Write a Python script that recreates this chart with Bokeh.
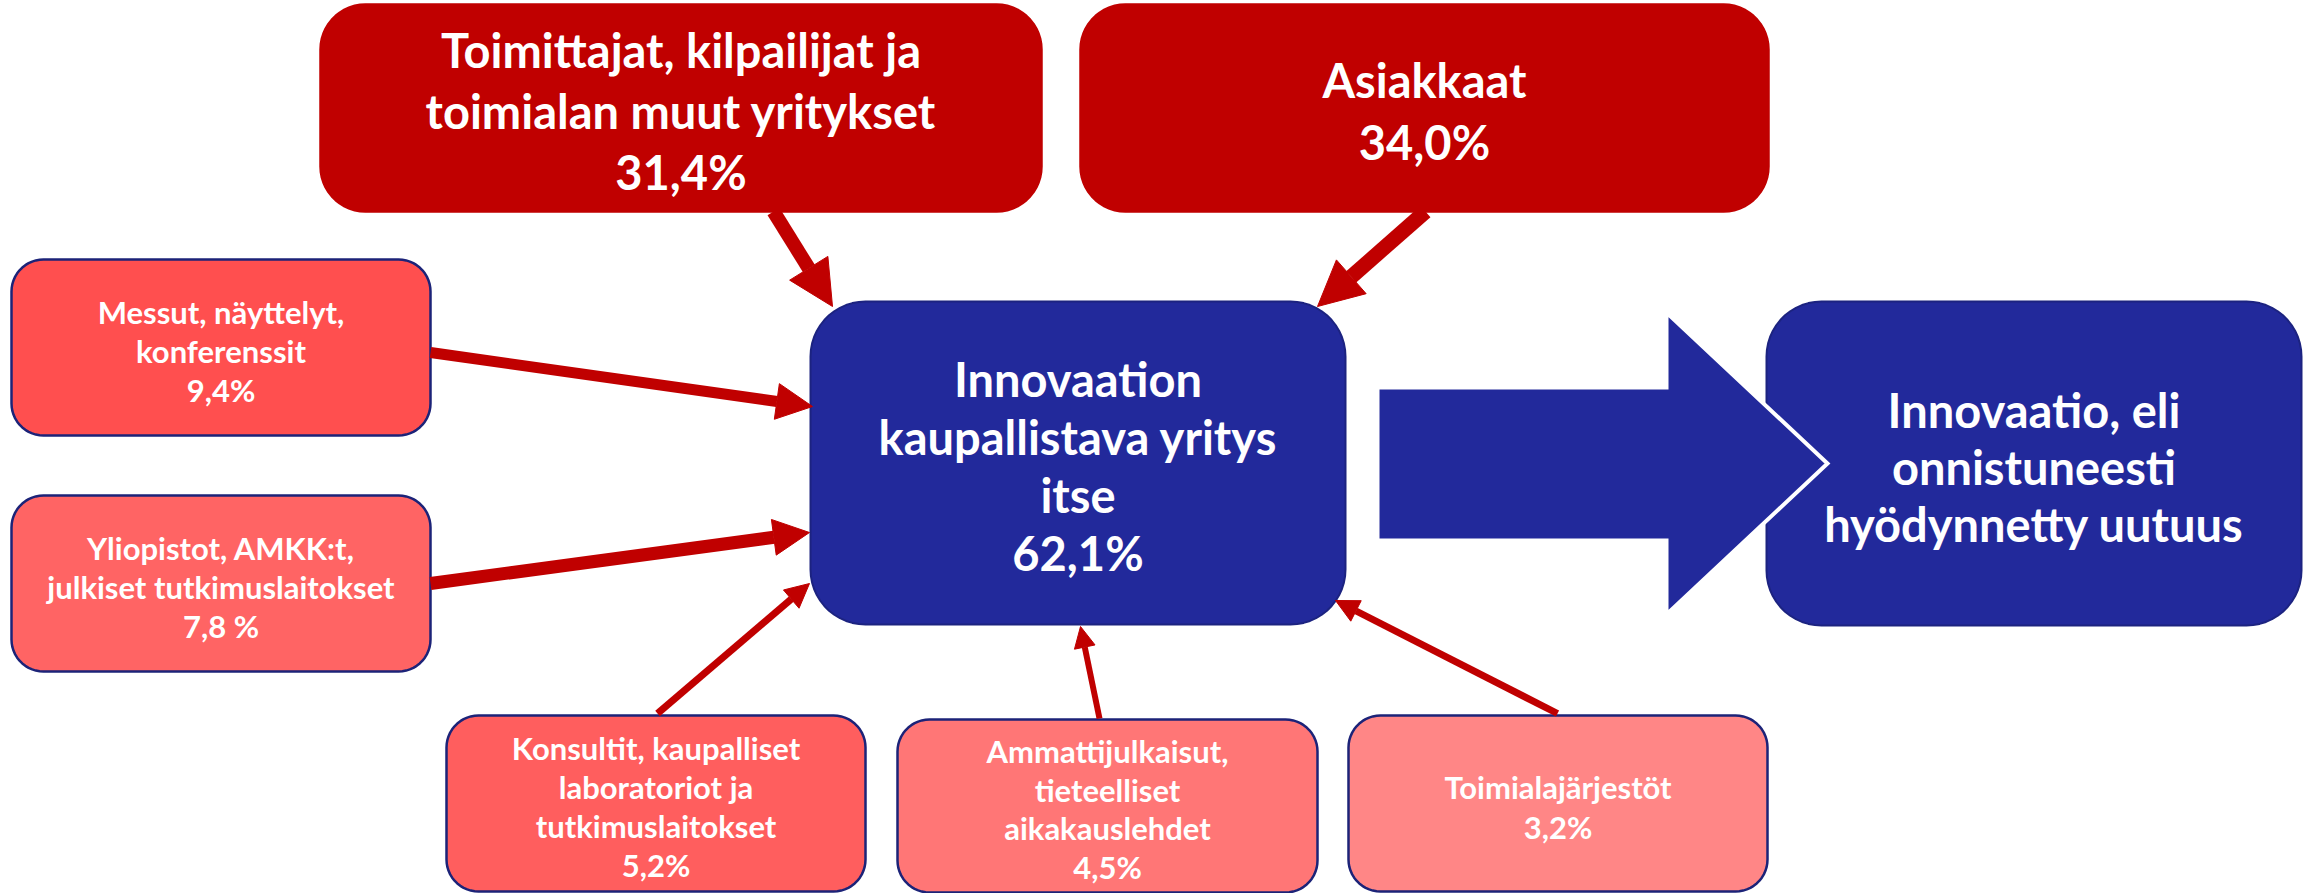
import numpy as np
from bokeh.plotting import figure
from bokeh.models import Range1d, Arrow, NormalHead, ColumnDataSource
from bokeh.core.properties import value
from bokeh.embed import file_html
from bokeh.resources import INLINE

# ---------------- data ----------------
source_names = [
    "Toimittajat, kilpailijat ja\ntoimialan muut yritykset",
    "Asiakkaat",
    "Messut, näyttelyt,\nkonferenssit",
    "Yliopistot, AMKK:t,\njulkiset tutkimuslaitokset",
    "Konsultit, kaupalliset\nlaboratoriot ja\ntutkimuslaitokset",
    "Ammattijulkaisut,\ntieteelliset\naikakauslehdet",
    "Toimialajärjestöt",
]
source_shares = ["31,4%", "34,0%", "9,4%", "7,8 %", "5,2%", "4,5%", "3,2%"]
center_name = "Innovaation\nkaupallistava yritys\nitse"
center_share = "62,1%"
result_name = "Innovaatio, eli\nonnistuneesti\nhyödynnetty uutuus"

# ---------------- layout (diagram geometry, reference pixel space) ----------------
W, H = 2313, 893
source_boxes = [
    (320, 4, 1041, 211),
    (1080, 4, 1768, 211),
    (11, 259, 430, 435),
    (11, 495, 430, 671),
    (446, 715, 865, 891),
    (897, 719, 1317, 892),
    (1348, 715, 1767, 891),
]
source_fill = ["#C00000", "#C00000", "#FF4F4F", "#FF6464", "#FF5E5E", "#FF7676", "#FF8686"]
source_line = ["#C00000", "#C00000", "#1C2378", "#1C2378", "#1C2378", "#1C2378", "#1C2378"]
source_radius = [45, 45, 32, 32, 32, 32, 32]
source_font = ["47px", "47px", "31px", "31px", "31px", "31px", "31px"]
source_spacing = [61, 62, 39, 39, 38.7, 38.7, 40]

center_box = (810, 301, 1345, 624)
result_box = (1766, 301, 2301, 625)
blue = "#22299B"
blue_line = "#1C2380"

# arrows: start (x, y), end (x, y), line width, head size
arrow_start = [(773, 211), (1425, 211), (430, 352), (430, 583), (657, 713), (1099, 718), (1557, 713)]
arrow_end = [(832, 306), (1317, 306), (812, 406), (809, 532), (809, 583), (1080, 626), (1335, 600)]
arrow_width = [14, 15, 11, 13, 7, 6, 7]
arrow_head = [45, 45, 36, 36, 24, 21, 23]

big_arrow_x = [1377, 1666, 1666, 1827, 1666, 1666, 1377]
big_arrow_y = [387, 387, 312, 463, 614, 540, 540]


def rounded(box, r, n=14):
    x0, y0, x1, y1 = box
    xs, ys = [], []
    corners = [
        (x1 - r, y0 + r, -np.pi / 2, 0),
        (x1 - r, y1 - r, 0, np.pi / 2),
        (x0 + r, y1 - r, np.pi / 2, np.pi),
        (x0 + r, y0 + r, np.pi, 1.5 * np.pi),
    ]
    for cx, cy, a0, a1 in corners:
        t = np.linspace(a0, a1, n)
        xs.extend(cx + r * np.cos(t))
        ys.extend(cy + r * np.sin(t))
    return list(xs), list(ys)


p = figure(
    width=W, height=H,
    x_range=Range1d(0, W), y_range=Range1d(H, 0),
    output_backend="svg", toolbar_location=None, min_border=0,
)
p.axis.visible = False
p.grid.visible = False
p.outline_line_color = None
p.background_fill_color = "white"
p.border_fill_color = "white"

# source boxes
bx, by = [], []
for b, r in zip(source_boxes, source_radius):
    xs, ys = rounded(b, r)
    bx.append(xs)
    by.append(ys)
p.patches(
    xs=bx, ys=by, fill_color=source_fill, line_color=source_line, line_width=2.5,
)

# blue boxes
cx, cy = rounded(center_box, 55)
rx, ry = rounded(result_box, 55)
p.patches(xs=[cx, rx], ys=[cy, ry], fill_color=blue, line_color=blue_line, line_width=2)

# big arrow on top of result box
p.patch(x=big_arrow_x, y=big_arrow_y, fill_color=blue, line_color="white", line_width=4,
        line_join="miter")

# red arrows
for (xs0, ys0), (xe, ye), lw, hs in zip(arrow_start, arrow_end, arrow_width, arrow_head):
    p.add_layout(Arrow(
        x_start=xs0, y_start=ys0, x_end=xe, y_end=ye,
        line_color="#C00000", line_width=lw,
        end=NormalHead(size=hs, fill_color="#C00000", line_color="#C00000", line_width=1),
        start=None,
    ))


def add_lines(lines, box, spacing, size):
    x0, y0, x1, y1 = box
    xc = (x0 + x1) / 2
    yc = (y0 + y1) / 2 + 3
    n = len(lines)
    ys = [yc + (i - (n - 1) / 2) * spacing for i in range(n)]
    src = ColumnDataSource(dict(x=[xc] * n, y=ys, t=lines))
    p.text(x="x", y="y", text="t", source=src, text_font=value("Lato"),
           text_font_style="bold", text_font_size=size, text_color="white",
           text_align="center", text_baseline="middle")


for name, share, box, sp, fs in zip(source_names, source_shares, source_boxes,
                                    source_spacing, source_font):
    add_lines(name.split("\n") + [share], box, sp, fs)

add_lines(center_name.split("\n") + [center_share], center_box, 58, "47px")
add_lines(result_name.split("\n"), result_box, 57, "47px")

open("out.html", "w").write(file_html(p, INLINE))
